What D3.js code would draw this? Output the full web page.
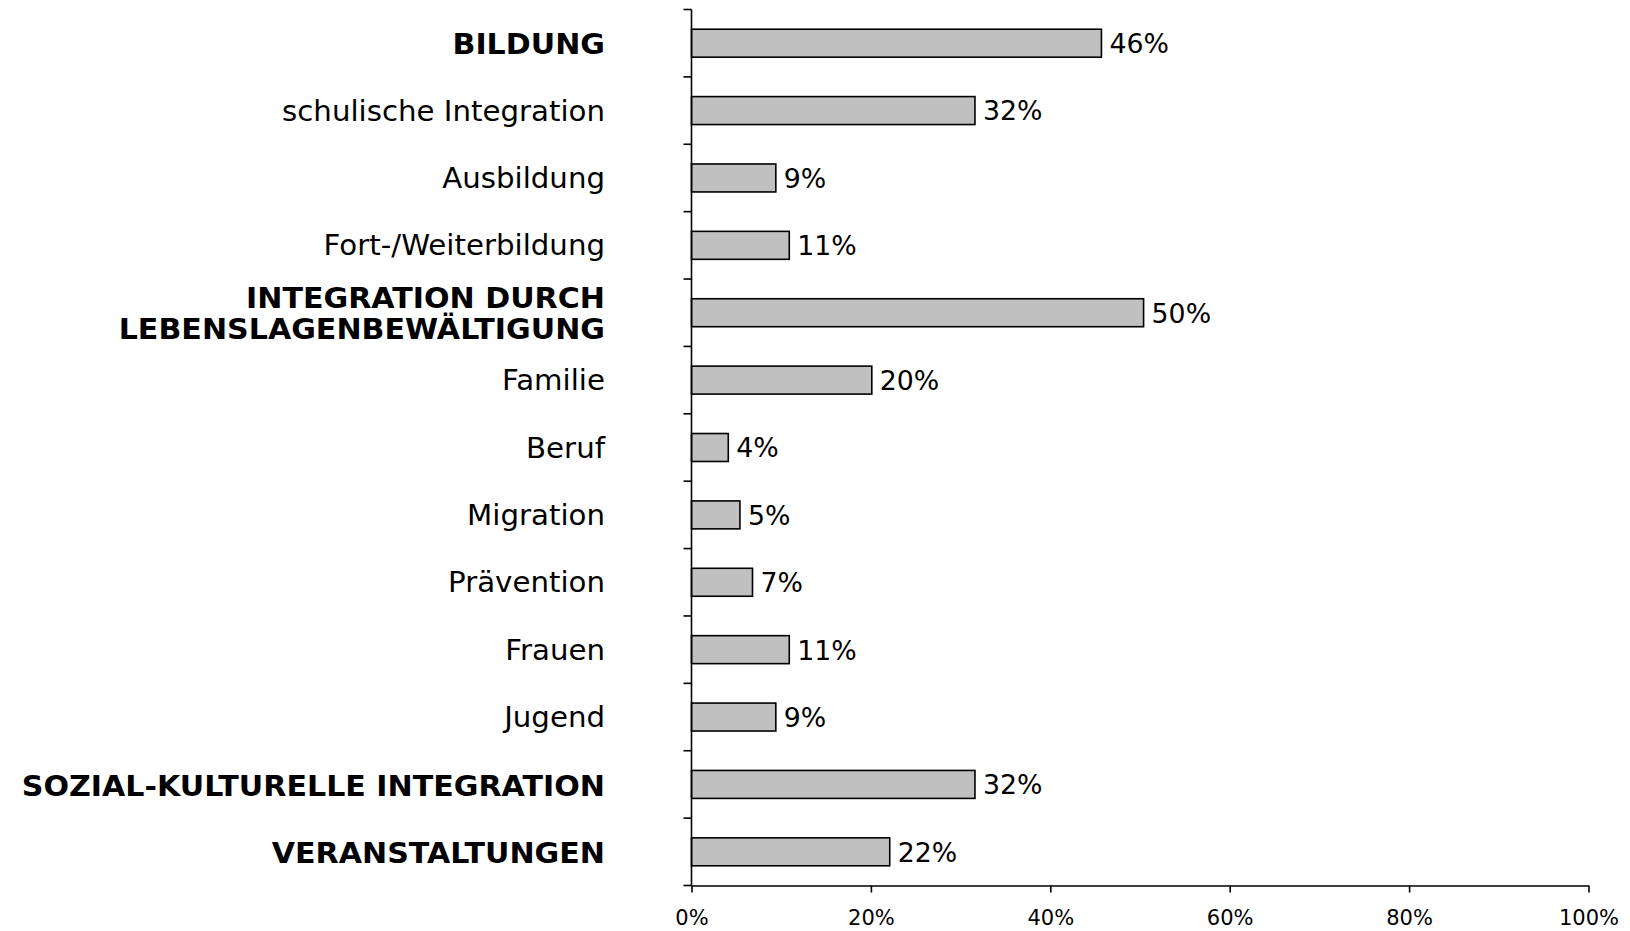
<!DOCTYPE html>
<html><head><meta charset="utf-8">
<script src="https://cdn.jsdelivr.net/npm/d3@7"></script>
<style>body{margin:0;background:#fff}svg{display:block}text{font-family:"DejaVu Sans",Verdana,sans-serif;fill:#000}</style>
</head><body><svg id="c" width="1630" height="931"></svg>
<script>
const categories = ["BILDUNG","schulische Integration","Ausbildung","Fort-/Weiterbildung","INTEGRATION DURCH\nLEBENSLAGENBEWÄLTIGUNG","Familie","Beruf","Migration","Prävention","Frauen","Jugend","SOZIAL-KULTURELLE INTEGRATION","VERANSTALTUNGEN"];
const isHeader = [true,false,false,false,true,false,false,false,false,false,false,true,true];
const values = [45.7,31.6,9.4,10.9,50.4,20.1,4.1,5.4,6.8,10.9,9.4,31.6,22.1];
const xTicks = [0,20,40,60,80,100];

const svg = d3.select("#c");
const x = d3.scaleLinear().domain([0,100]).range([691.5,1588.5]);
const y = d3.scaleBand().domain(categories).range([9.5,885.5]).paddingInner(0.585).paddingOuter(0.2925);
const step = y.step();

// bars
svg.selectAll("rect.bar").data(values).join("rect")
  .attr("x", x(0)).attr("y",(d,i)=>y(categories[i]))
  .attr("width", d=>x(d)-x(0)).attr("height", y.bandwidth())
  .attr("fill","#c0c0c0").attr("stroke","#000").attr("stroke-width",1.6);

// value labels
svg.selectAll("text.val").data(values).join("text")
  .attr("x", d=>x(d)+8).attr("y",(d,i)=>y(categories[i])+y.bandwidth()/2)
  .attr("dy","0.38em").attr("font-size",26)
  .attr("transform",d=>`translate(${x(d)+8},0) scale(1.03,1) translate(${-(x(d)+8)},0)`)
  .text(d=>d3.format(".0f")(d)+"%");

// y axis line with ticks at band boundaries
const g = svg.append("g");
g.append("line").attr("x1",x(0)).attr("x2",x(0)).attr("y1",y.range()[0]).attr("y2",y.range()[1]).attr("stroke","#000").attr("stroke-width",1.6);
const bounds = d3.range(categories.length+1).map(i=>y.range()[0]+i*step);
g.selectAll("line.t").data(bounds).join("line")
  .attr("x1",x(0)-8).attr("x2",x(0)).attr("y1",d=>d).attr("y2",d=>d)
  .attr("stroke","#000").attr("stroke-width",1.6);

// category labels
const labelX = 605;
svg.selectAll("text.cat").data(categories).join("text")
  .attr("text-anchor","end").attr("font-size",28)
  .attr("font-weight",(d,i)=>isHeader[i]?"bold":"normal")
  .attr("transform",(d,i)=>`translate(${labelX},0) scale(${isHeader[i]?1.075:1.045},1) translate(${-labelX},0)`)
  .each(function(d,i){
    const lines = d.split("\n");
    const cy = y(d)+y.bandwidth()/2;
    const lh = 31;
    d3.select(this).selectAll("tspan").data(lines).join("tspan")
      .attr("x",labelX).attr("y",(l,j)=>cy+(j-(lines.length-1)/2)*lh).attr("dy",isHeader[i]?"0.4em":"0.36em").text(l=>l);
  });

// x axis
const xa = svg.append("g").attr("transform",`translate(0,${y.range()[1]})`)
  .call(d3.axisBottom(x).tickValues(xTicks).tickFormat(d=>d+"%").tickSize(7).tickPadding(18).tickSizeOuter(0));
xa.select(".domain").attr("stroke","#000").attr("stroke-width",1.6);
xa.selectAll(".tick line").attr("stroke","#000").attr("stroke-width",1.6);
xa.selectAll(".tick text").attr("font-size",21).attr("font-family","DejaVu Sans, Verdana, sans-serif").attr("fill","#000");
</script></body></html>
